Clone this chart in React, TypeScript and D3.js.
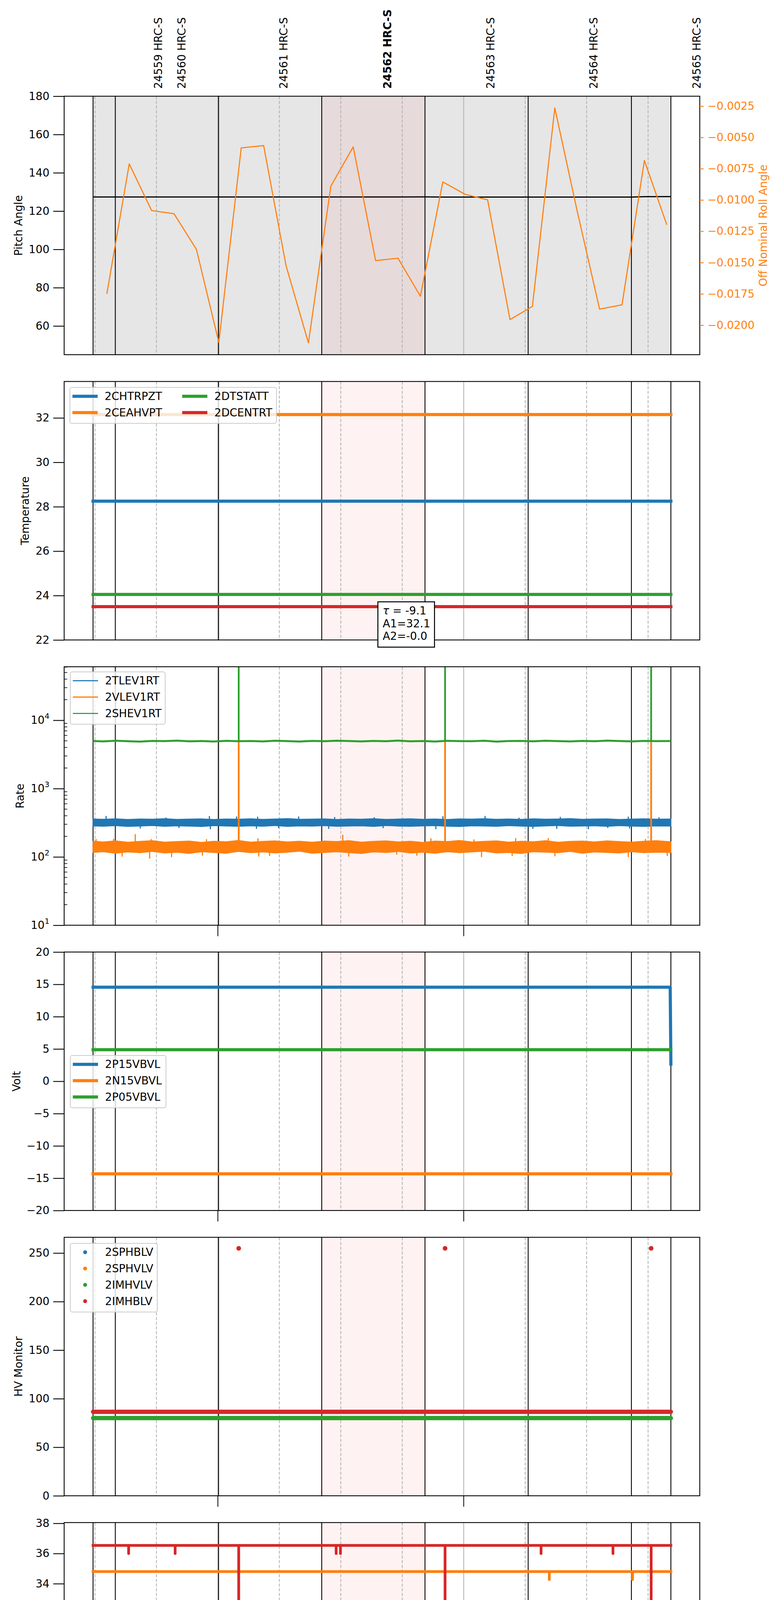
import { useEffect, useRef } from 'react';
import * as d3 from 'd3';

const FONT = 'DejaVu Sans, sans-serif';
const BLUE = '#1f77b4';
const ORANGE = '#ff7f0e';
const GREEN = '#2ca02c';
const RED = '#d62728';

const DAY = '2021-09-09';
const parseTime = d3.utcParse('%Y-%m-%d %H:%M:%S');
const at = (hms: string) => parseTime(`${DAY} ${hms}`) as Date;

// time span of the data and the observation boundaries
const dataStart = '03:29:32';
const dataEnd = '05:50:34';
const obsBoundaries = ['03:34:58', '04:00:10', '04:25:21', '04:50:33', '05:15:44', '05:40:56'];
const obsLabels = ['24559 HRC-S', '24560 HRC-S', '24561 HRC-S', '24562 HRC-S', '24563 HRC-S', '24564 HRC-S', '24565 HRC-S'];
const obsLabelTimes = ['03:45:28', '03:51:11', '04:16:06', '04:41:23', '05:06:34', '05:31:46', '05:56:52'];
const highlightObs = '24562 HRC-S';
const highlightSpan = ['04:25:21', '04:50:33'];

// panel 1: pitch and off nominal roll
const pitchTimes = ['03:29:32', '04:00:00', '04:50:33', '04:55:00', '05:40:56', '05:44:00', '05:50:34'];
const pitchValues = [127.35, 127.35, 127.4, 127.3, 127.3, 127.55, 127.6];
const rollTimes = [
  '03:32:54', '03:38:22', '03:43:50', '03:49:18', '03:54:46', '04:00:14', '04:05:42', '04:11:10', '04:16:38',
  '04:22:06', '04:27:34', '04:33:02', '04:38:30', '04:43:58', '04:49:26', '04:54:54', '05:00:22', '05:05:50',
  '05:11:18', '05:16:46', '05:22:14', '05:27:42', '05:33:10', '05:38:38', '05:44:06', '05:49:34',
];
const rollValues = [
  -0.0175, -0.00712, -0.01085, -0.0111, -0.01395, -0.02138, -0.00584, -0.00565, -0.01524,
  -0.02142, -0.0089, -0.00576, -0.01484, -0.01465, -0.01769, -0.00856, -0.00955, -0.00999,
  -0.01956, -0.0185, -0.00265, -0.01089, -0.01872, -0.01838, -0.00685, -0.01198,
];
const pitchTicks = [60, 80, 100, 120, 140, 160, 180];
const rollTicks = [-0.0025, -0.005, -0.0075, -0.01, -0.0125, -0.015, -0.0175, -0.02];

// panel 2: temperature
const tempNames = ['2CHTRPZT', '2CEAHVPT', '2DTSTATT', '2DCENTRT'];
const tempValues = [28.25, 32.15, 24.05, 23.5];
const tempTicks = [22, 24, 26, 28, 30, 32];
const fitLines = ['= -9.1', 'A1=32.1', 'A2=-0.0'];

// panel 3: rates (noise drawn as low/high envelopes plus single excursions)
const rateNames = ['2TLEV1RT', '2VLEV1RT', '2SHEV1RT'];
const rateTimes = [
  '03:29:32', '03:32:00', '03:35:00', '03:38:00', '03:41:00', '03:44:00', '03:47:00', '03:50:00', '03:53:00',
  '03:56:00', '03:59:00', '04:02:00', '04:05:00', '04:08:00', '04:11:00', '04:14:00', '04:17:00', '04:20:00',
  '04:23:00', '04:26:00', '04:29:00', '04:32:00', '04:35:00', '04:38:00', '04:41:00', '04:44:00', '04:47:00',
  '04:50:00', '04:53:00', '04:56:00', '04:59:00', '05:02:00', '05:05:00', '05:08:00', '05:11:00', '05:14:00',
  '05:17:00', '05:20:00', '05:23:00', '05:26:00', '05:29:00', '05:32:00', '05:35:00', '05:38:00', '05:41:00',
  '05:44:00', '05:47:00', '05:50:34',
];
const tlevHigh = [
  360, 356, 362, 354, 359, 357, 363, 355, 358, 361, 353, 360, 357, 362, 355, 359, 364, 356, 358, 361, 354, 360,
  357, 363, 355, 359, 362, 356, 360, 354, 361, 358, 363, 356, 359, 355, 362, 357, 360, 364, 356, 359, 361, 354,
  358, 362, 357, 360,
];
const tlevLow = [
  284, 281, 286, 279, 283, 287, 280, 285, 282, 278, 286, 283, 280, 285, 281, 287, 279, 284, 282, 286, 280, 283,
  285, 279, 287, 282, 280, 284, 286, 281, 278, 285, 283, 280, 286, 282, 279, 284, 287, 281, 283, 285, 280, 286,
  282, 279, 284, 283,
];
const tlevBase = 320;
const tlevBlipTimes = [
  '03:32:43', '03:47:20', '03:57:56', '04:04:33', '04:09:42', '04:19:43', '04:28:30', '04:38:10', '04:54:55',
  '05:05:13', '05:13:30', '05:23:35', '05:40:10', '05:47:40',
  '03:41:03', '03:50:30', '03:58:10', '04:09:25', '04:14:49', '04:27:03', '04:40:20', '04:53:12', '05:16:53',
  '05:22:43', '05:30:26', '05:35:10', '05:40:28',
];
const tlevBlipValues = [
  392, 372, 390, 385, 382, 385, 378, 374, 388, 392, 370, 380, 382, 374,
  265, 270, 259, 262, 268, 261, 268, 259, 262, 262, 259, 270, 265,
];
const vlevHigh = [
  170, 166, 172, 164, 169, 173, 165, 168, 171, 163, 170, 167, 174, 165, 169, 172, 166, 170, 164, 171, 168, 173,
  165, 169, 172, 166, 170, 163, 171, 168, 174, 166, 169, 172, 165, 170, 167, 173, 164, 169, 171, 166, 172, 168,
  165, 170, 173, 167,
];
const vlevLow = [
  116, 119, 113, 118, 115, 120, 114, 117, 112, 119, 116, 113, 120, 115, 118, 114, 117, 121, 113, 116, 119, 115,
  112, 118, 116, 120, 114, 117, 113, 119, 115, 118, 121, 114, 116, 112, 119, 117, 115, 120, 113, 118, 116, 114,
  119, 115, 117, 116,
];
const vlevBase = 140;
const vlevBlipTimes = [
  '03:30:17', '03:34:33', '03:39:50', '03:43:43', '03:57:13', '04:09:47', '04:30:29', '04:52:00', '05:02:30',
  '05:12:41', '05:20:38', '05:44:21',
  '03:36:38', '03:43:21', '03:48:42', '03:56:13', '04:09:59', '04:12:37', '04:31:56', '04:43:40', '04:48:33',
  '05:04:21', '05:11:50', '05:22:15', '05:40:10', '05:49:41',
];
const vlevBlipValues = [
  180, 182, 212, 180, 179, 185, 208, 184, 178, 186, 186, 180,
  103, 96, 101, 106, 103, 105, 103, 110, 106, 101, 105, 104, 101, 105,
];
const shevValues = [
  4980, 4900, 5010, 4940, 4870, 4990, 4950, 5030, 4920, 4960, 4890, 5000, 4940, 4970, 4910, 5020, 4950, 4880,
  4990, 4930, 5010, 4960, 4900, 4980, 4940, 5040, 4920, 4970, 4890, 5000, 4950, 4930, 5010, 4870, 4960, 4990,
  4920, 5020, 4950, 4900, 4980, 4940, 5030, 4960, 4910, 4990, 4950, 4970,
];
const shevBase = 4950;
const spikeTimes = ['04:05:05', '04:55:27', '05:45:45'];
const vlevSpikePeak = 5000;
const shevSpikePeak = 1e6;
const rateTicks = [10, 100, 1000, 10000];

// panel 4: voltages
const voltNames = ['2P15VBVL', '2N15VBVL', '2P05VBVL'];
const p15Times = ['03:29:32', '05:50:24', '05:50:34'];
const p15Values = [14.55, 14.55, 2.65];
const n15Value = -14.32;
const p05Value = 4.88;
const voltTicks = [-20, -15, -10, -5, 0, 5, 10, 15, 20];

// panel 5: HV monitors
const hvNames = ['2SPHBLV', '2SPHVLV', '2IMHVLV', '2IMHBLV'];
const imhvlvValue = 80.0;
const imhblvValue = 86.5;
const imhblvSpikeValue = 254.8;
const hvTicks = [0, 50, 100, 150, 200, 250];

// panel 6: detector temperatures
const detNames = ['2SPINATM', '2SPHVATM', '2IMINATM', '2IMHVATM'];
const detBase = [22.41, 34.8, 23.14, 36.54];
const spinatmDipTimes = ['03:45:11', '03:50:37', '03:58:44', '03:59:47'];
const spinatmDipValues = [21.62, 21.62, 21.62, 21.62];
const sphvatmDipTimes = ['05:20:53', '05:41:12'];
const sphvatmDipValues = [34.28, 34.28];
const imhvatmDipTimes = ['03:38:13', '03:49:34', '04:28:52', '04:29:55', '05:18:53', '05:36:26', '04:05:05', '04:55:27', '05:45:45'];
const imhvatmDipValues = [36.0, 36.0, 36.0, 36.0, 36.0, 36.0, 15, 15, 15];
const detTicks = [22, 24, 26, 28, 30, 32, 34, 36, 38];

// panel 7: FEA temperatures
const feaNames = ['2FHTRMZT', '2FRADPYT', '2FEPRATM', '2FE00ATM'];
const feaBase = [26.39, 21.8, 27.76, 25.28];
const fradpytDipTimes = ['05:05:44', '05:28:09', '05:30:26', '05:37:01', '05:48:57'];
const fradpytDipValues = [21.22, 21.22, 21.22, 21.22, 21.22];
const fepratmDipTimes = ['04:05:05', '04:55:27', '05:45:45', '05:26:24'];
const fepratmDipValues = [25.35, 25.35, 25.35, 26.92];
const fe00atmSpikeTimes = [
  '03:35:27', '04:05:36', '04:09:08', '04:13:20', '04:17:53', '04:19:37', '04:34:36', '04:53:00', '04:57:06',
  '04:57:42', '05:01:02', '05:09:03', '05:42:42',
  '03:33:49', '03:38:24', '03:41:04', '04:10:11', '04:22:35', '04:35:10', '04:39:28', '04:39:57', '04:41:40',
  '05:07:37', '05:15:16', '05:47:08',
  '04:05:05', '04:55:27', '05:45:45',
];
const fe00atmSpikeValues = [
  25.66, 26.35, 25.65, 26.0, 26.0, 26.35, 25.65, 26.35, 25.65, 25.65, 25.65, 26.0, 25.65,
  24.24, 24.9, 24.25, 24.95, 24.56, 24.25, 24.6, 24.6, 22.93, 24.25, 24.95, 24.95,
  15, 15, 15,
];
const feaTicks = [21, 22, 23, 24, 25, 26, 27, 28, 29];

// layout
const PLOT_LEFT = 164.3;
const PLOT_RIGHT = 1792;
const PANEL_TOP = 246.3;
const PANEL_STEP = 730.3;
const PANEL_H = 661.7;

type Item = { label: string; color: string; lw?: number; dot?: boolean };

const App = () => {
  const svgRef = useRef<SVGSVGElement>(null);

  useEffect(() => {
    if (!svgRef.current) return;
    const svg = d3.select(svgRef.current);
    svg.selectAll('*').remove();

    const w = PLOT_RIGHT - PLOT_LEFT;
    const h = PANEL_H;
    const start = at(dataStart);
    const end = at(dataEnd);
    const pad = (+end - +start) * 0.05;
    const x = d3.scaleUtc().domain([new Date(+start - pad), new Date(+end + pad)]).range([0, w]);
    const quarters = x.ticks(d3.utcMinute.every(15)!);
    const hours = quarters.filter((d) => d.getUTCMinutes() === 0);
    const minors = quarters.filter((d) => d.getUTCMinutes() !== 0);
    const fmtInt = d3.format('d');

    svg.append('rect').attr('width', 2000).attr('height', 5400).attr('fill', '#fff');

    const panel = (i: number) => {
      const g = svg.append('g').attr('transform', `translate(${PLOT_LEFT},${PANEL_TOP + i * PANEL_STEP})`);
      g.append('clipPath').attr('id', `clip${i}`).append('rect').attr('width', w).attr('height', h);
      return g;
    };

    const background = (g: any, shadeAll: boolean) => {
      if (shadeAll) {
        g.append('rect')
          .attr('x', x(start)).attr('width', x(end) - x(start)).attr('height', h)
          .attr('fill', '#808080').attr('fill-opacity', 0.2);
      }
      const s0 = at(highlightSpan[0]);
      const s1 = at(highlightSpan[1]);
      g.append('rect')
        .attr('x', x(s0)).attr('width', x(s1) - x(s0)).attr('height', h)
        .attr('fill', 'red').attr('fill-opacity', 0.05);
      g.selectAll('line.minor').data(minors).join('line')
        .attr('x1', (d: Date) => x(d)).attr('x2', (d: Date) => x(d)).attr('y1', 0).attr('y2', h)
        .attr('stroke', '#b0b0b0').attr('stroke-width', 2).attr('stroke-dasharray', '8,4');
      g.selectAll('line.hour').data(hours).join('line')
        .attr('x1', (d: Date) => x(d)).attr('x2', (d: Date) => x(d)).attr('y1', 0).attr('y2', h)
        .attr('stroke', '#b0b0b0').attr('stroke-width', 2);
      const bounds = [dataStart, ...obsBoundaries, dataEnd].map(at);
      g.selectAll('line.bound').data(bounds).join('line')
        .attr('x1', (d: Date) => x(d)).attr('x2', (d: Date) => x(d)).attr('y1', 0).attr('y2', h)
        .attr('stroke', '#000').attr('stroke-width', 2.2);
    };

    const frame = (g: any, hourTicks: boolean) => {
      g.append('rect').attr('width', w).attr('height', h)
        .attr('fill', 'none').attr('stroke', '#000').attr('stroke-width', 2.2);
      if (hourTicks) {
        g.selectAll('line.htick').data(hours).join('line')
          .attr('x1', (d: Date) => x(d)).attr('x2', (d: Date) => x(d)).attr('y1', h).attr('y2', h + 28)
          .attr('stroke', '#000').attr('stroke-width', 2);
      }
    };

    const leftAxis = (g: any, y: any, ticks: number[], fmt: (v: number) => string) => {
      const ax = g.append('g').call(
        d3.axisLeft(y).tickValues(ticks).tickSize(28).tickPadding(9.7).tickFormat((v: any) => fmt(v))
      );
      ax.select('.domain').remove();
      ax.selectAll('line').attr('stroke', '#000').attr('stroke-width', 2.2);
      ax.selectAll('text').attr('font-size', 27.8).attr('font-family', FONT).attr('fill', '#000');
      return ax;
    };

    const yLabel = (g: any, label: string, cx: number) => {
      g.append('text')
        .attr('transform', `translate(${cx - PLOT_LEFT},${h / 2}) rotate(-90)`)
        .attr('text-anchor', 'middle').attr('dominant-baseline', 'central')
        .attr('font-size', 27.8).attr('font-family', FONT).text(label);
    };

    const flat = (g: any, y: any, value: number, color: string, lw: number, cap = 'square') => {
      const line = d3.line<Date>().x((d) => x(d)).y(() => y(value));
      g.append('path').datum([start, end]).attr('d', line)
        .attr('fill', 'none').attr('stroke', color).attr('stroke-width', lw).attr('stroke-linecap', cap);
    };

    const spikes = (g: any, y: any, base: number, times: string[], values: number[], color: string, lw: number) => {
      g.selectAll(null).data(times).join('line')
        .attr('x1', (d: string) => x(at(d))).attr('x2', (d: string) => x(at(d)))
        .attr('y1', y(base)).attr('y2', (_: string, k: number) => y(values[k]))
        .attr('stroke', color).attr('stroke-width', lw).attr('stroke-linecap', 'round');
    };

    // ---------- panel 1: pitch / roll ----------
    {
      const g = panel(0);
      const y = d3.scaleLinear().domain([45, 180]).range([h, 0]);
      const rExt = d3.extent(rollValues) as [number, number];
      const rPad = (rExt[1] - rExt[0]) * 0.05;
      const yR = d3.scaleLinear().domain([rExt[0] - rPad, rExt[1] + rPad]).range([h, 0]);
      background(g, true);
      const dg = g.append('g').attr('clip-path', 'url(#clip0)');
      dg.append('path')
        .datum(pitchTimes.map((t, k) => [at(t), pitchValues[k]] as [Date, number]))
        .attr('d', d3.line<[Date, number]>().x((d) => x(d[0])).y((d) => y(d[1])))
        .attr('fill', 'none').attr('stroke', '#000').attr('stroke-width', 3);
      dg.append('path')
        .datum(rollTimes.map((t, k) => [at(t), rollValues[k]] as [Date, number]))
        .attr('d', d3.line<[Date, number]>().x((d) => x(d[0])).y((d) => yR(d[1])))
        .attr('fill', 'none').attr('stroke', ORANGE).attr('stroke-width', 2.8).attr('stroke-linejoin', 'round');
      frame(g, false);
      leftAxis(g, y, pitchTicks, fmtInt);
      const rAx = g.append('g').attr('transform', `translate(${w},0)`).call(
        d3.axisRight(yR).tickValues(rollTicks).tickSize(10).tickPadding(9.7).tickFormat(d3.format('.4f') as any)
      );
      rAx.select('.domain').remove();
      rAx.selectAll('line').attr('stroke', ORANGE).attr('stroke-width', 2.2);
      rAx.selectAll('text').attr('font-size', 27.8).attr('font-family', FONT).attr('fill', ORANGE);
      yLabel(g, 'Pitch Angle', 47);
      g.append('text')
        .attr('transform', `translate(${1954 - PLOT_LEFT},${h / 2}) rotate(-90)`)
        .attr('text-anchor', 'middle').attr('dominant-baseline', 'central')
        .attr('font-size', 27.8).attr('font-family', FONT).attr('fill', ORANGE)
        .text('Off Nominal Roll Angle');
      g.selectAll('text.obs').data(obsLabels).join('text')
        .attr('transform', (_: string, k: number) => `translate(${x(at(obsLabelTimes[k]))},${-19}) rotate(-90)`)
        .attr('text-anchor', 'start').attr('dominant-baseline', 'central')
        .attr('font-size', 27.8).attr('font-family', FONT)
        .attr('font-weight', (d: string) => (d === highlightObs ? 'bold' : 'normal'))
        .text((d: string) => d);
    }

    // ---------- panel 2: temperature ----------
    {
      const g = panel(1);
      const y = d3.scaleLinear().domain([22, 33.64]).range([h, 0]);
      background(g, false);
      const dg = g.append('g').attr('clip-path', 'url(#clip1)');
      const colors = [BLUE, ORANGE, GREEN, RED];
      tempValues.forEach((v, k) => flat(dg, y, v, colors[k], 8));
      frame(g, false);
      leftAxis(g, y, tempTicks, fmtInt);
      yLabel(g, 'Temperature', 64);
    }

    // ---------- panel 3: rates ----------
    {
      const g = panel(2);
      const y = d3.scaleLog().domain([10, Math.pow(10, 4.783)]).range([h, 0]);
      background(g, false);
      const dg = g.append('g').attr('clip-path', 'url(#clip2)');
      const band = (hi: number[], lo: number[], color: string) => {
        const area = d3.area<number>()
          .x((_, k) => x(at(rateTimes[k])))
          .y0((d) => y(d))
          .y1((_, k) => y(hi[k]));
        dg.append('path').datum(lo).attr('d', area)
          .attr('fill', color).attr('stroke', color).attr('stroke-width', 2).attr('stroke-linejoin', 'round');
      };
      band(tlevHigh, tlevLow, BLUE);
      spikes(dg, y, tlevBase, tlevBlipTimes, tlevBlipValues, BLUE, 3);
      band(vlevHigh, vlevLow, ORANGE);
      spikes(dg, y, vlevBase, vlevBlipTimes, vlevBlipValues, ORANGE, 3);
      spikes(dg, y, vlevBase, spikeTimes, spikeTimes.map(() => vlevSpikePeak), ORANGE, 4.5);
      dg.append('path').datum(shevValues)
        .attr('d', d3.line<number>().x((_, k) => x(at(rateTimes[k]))).y((d) => y(d)))
        .attr('fill', 'none').attr('stroke', GREEN).attr('stroke-width', 5);
      spikes(dg, y, shevBase, spikeTimes, spikeTimes.map(() => shevSpikePeak), GREEN, 4.5);
      frame(g, true);
      const ax = leftAxis(g, y, rateTicks, () => '');
      ax.selectAll('text').each(function (this: any, d: any) {
        const el = d3.select(this);
        el.text(null);
        el.append('tspan').text('10');
        el.append('tspan').attr('font-size', 19.5).attr('dy', -13).text(String(Math.round(Math.log10(d))));
      });
      const minorTicks: number[] = [];
      [10, 100, 1000, 10000].forEach((dec) => {
        for (let m = 2; m <= 9; m++) if (dec * m < y.domain()[1]) minorTicks.push(dec * m);
      });
      g.selectAll('line.mtick').data(minorTicks).join('line')
        .attr('x1', 0).attr('x2', 8).attr('y1', (d: number) => y(d)).attr('y2', (d: number) => y(d))
        .attr('stroke', '#000').attr('stroke-width', 1.6);
      yLabel(g, 'Rate', 51);
    }

    // ---------- panel 4: voltage ----------
    {
      const g = panel(3);
      const y = d3.scaleLinear().domain([-20, 20]).range([h, 0]);
      background(g, false);
      const dg = g.append('g').attr('clip-path', 'url(#clip3)');
      dg.append('path')
        .datum(p15Times.map((t, k) => [at(t), p15Values[k]] as [Date, number]))
        .attr('d', d3.line<[Date, number]>().x((d) => x(d[0])).y((d) => y(d[1])))
        .attr('fill', 'none').attr('stroke', BLUE).attr('stroke-width', 8)
        .attr('stroke-linecap', 'square').attr('stroke-linejoin', 'round');
      flat(dg, y, n15Value, ORANGE, 8);
      flat(dg, y, p05Value, GREEN, 8);
      frame(g, true);
      leftAxis(g, y, voltTicks, fmtInt);
      yLabel(g, 'Volt', 42);
    }

    // ---------- panel 5: HV monitor ----------
    {
      const g = panel(4);
      const y = d3.scaleLinear().domain([0, 266.2]).range([h, 0]);
      background(g, false);
      const dg = g.append('g').attr('clip-path', 'url(#clip4)');
      flat(dg, y, imhvlvValue, GREEN, 11, 'round');
      flat(dg, y, imhblvValue, RED, 11, 'round');
      dg.selectAll('circle.hv').data(spikeTimes).join('circle')
        .attr('cx', (d: string) => x(at(d))).attr('cy', y(imhblvSpikeValue)).attr('r', 6).attr('fill', RED);
      frame(g, true);
      leftAxis(g, y, hvTicks, fmtInt);
      yLabel(g, 'HV Monitor', 47);
    }

    // ---------- panel 6: detector temp ----------
    {
      const g = panel(5);
      const y = d3.scaleLinear().domain([20.92, 38.05]).range([h, 0]);
      background(g, false);
      const dg = g.append('g').attr('clip-path', 'url(#clip5)');
      const colors = [BLUE, ORANGE, GREEN, RED];
      const dips: [string[], number[]][] = [
        [spinatmDipTimes, spinatmDipValues],
        [sphvatmDipTimes, sphvatmDipValues],
        [[], []],
        [imhvatmDipTimes, imhvatmDipValues],
      ];
      detBase.forEach((v, k) => {
        spikes(dg, y, v, dips[k][0], dips[k][1], colors[k], 7);
        flat(dg, y, v, colors[k], 7);
      });
      frame(g, true);
      leftAxis(g, y, detTicks, fmtInt);
      yLabel(g, 'Detector Temp', 64);
    }

    // ---------- panel 7: FEA temp ----------
    {
      const g = panel(6);
      const y = d3.scaleLinear().domain([20.31, 29.27]).range([h, 0]);
      background(g, false);
      const dg = g.append('g').attr('clip-path', 'url(#clip6)');
      const colors = [BLUE, ORANGE, GREEN, RED];
      const sp: [string[], number[]][] = [
        [[], []],
        [fradpytDipTimes, fradpytDipValues],
        [fepratmDipTimes, fepratmDipValues],
        [fe00atmSpikeTimes, fe00atmSpikeValues],
      ];
      feaBase.forEach((v, k) => {
        spikes(dg, y, v, sp[k][0], sp[k][1], colors[k], 7);
        flat(dg, y, v, colors[k], 7);
      });
      frame(g, true);
      leftAxis(g, y, feaTicks, fmtInt);
      yLabel(g, 'FEA Temp', 64);
      g.selectAll('text.minor').data(minors).join('text')
        .attr('x', (d: Date) => x(d)).attr('y', h + 16)
        .attr('text-anchor', 'middle').attr('dominant-baseline', 'central')
        .attr('font-size', 19.4).attr('font-family', FONT)
        .text((d: Date) => d3.utcFormat('%M')(d));
      g.selectAll('text.hour').data(hours).join('text')
        .attr('x', (d: Date) => x(d)).attr('y', h + 51)
        .attr('text-anchor', 'middle').attr('dominant-baseline', 'central')
        .attr('font-size', 27.8).attr('font-family', FONT)
        .text((d: Date) => d3.utcFormat('%Hh')(d));
      g.append('text')
        .attr('x', w / 2).attr('y', h + 92)
        .attr('text-anchor', 'middle').attr('dominant-baseline', 'central')
        .attr('font-size', 30.6).attr('font-family', FONT)
        .text(`${DAY} (252)`);
    }

    // ---------- legends ----------
    const legend = (bx: number, by: number, bw: number, items: Item[], cols = 1, colStep = 0) => {
      const rows = Math.ceil(items.length / cols);
      const lg = svg.append('g');
      lg.append('rect')
        .attr('x', bx).attr('y', by).attr('width', bw).attr('height', rows * 41.8 + 8.5).attr('rx', 5)
        .attr('fill', '#fff').attr('fill-opacity', 0.8).attr('stroke', '#cccccc').attr('stroke-width', 2);
      items.forEach((it, k) => {
        const c = Math.floor(k / rows);
        const r = k % rows;
        const ox = bx + c * colStep;
        const cy = by + 22.7 + r * 41.8;
        if (it.dot) {
          lg.append('circle').attr('cx', ox + 38).attr('cy', cy).attr('r', 5).attr('fill', it.color);
        } else {
          lg.append('line').attr('x1', ox + 6.5).attr('x2', ox + 71).attr('y1', cy).attr('y2', cy)
            .attr('stroke', it.color).attr('stroke-width', it.lw ?? 8);
        }
        lg.append('text').attr('x', ox + 89).attr('y', cy).attr('dominant-baseline', 'central')
          .attr('font-size', 27.8).attr('font-family', FONT).text(it.label);
      });
    };
    const palette = [BLUE, ORANGE, GREEN, RED];
    legend(179, 991.7, 529, tempNames.map((n, k) => ({ label: n, color: palette[k], lw: 8 })), 2, 281);
    legend(180, 1720, 243, rateNames.map((n, k) => ({ label: n, color: palette[k], lw: 2.8 })));
    legend(180, 2702, 245, voltNames.map((n, k) => ({ label: n, color: palette[k], lw: 8 })));
    legend(180, 3183, 223, hvNames.map((n, k) => ({ label: n, color: palette[k], dot: true })));
    legend(180, 4141.8, 246, detNames.map((n, k) => ({ label: n, color: palette[k], lw: 7 })));
    legend(180, 5101, 251, feaNames.map((n, k) => ({ label: n, color: palette[k], lw: 7 })));

    // ---------- fit text box ----------
    const box = svg.append('g');
    box.append('rect').attr('x', 967.7).attr('y', 1540.7).attr('width', 145).attr('height', 116)
      .attr('fill', '#fff').attr('stroke', '#000').attr('stroke-width', 2.5);
    const baselines = [1573, 1605.7, 1637.7];
    fitLines.forEach((line, k) => {
      const t = box.append('text').attr('x', 980).attr('y', baselines[k])
        .attr('font-size', 27.8).attr('font-family', FONT);
      if (k === 0) {
        t.append('tspan').attr('font-style', 'italic').text('τ');
        t.append('tspan').text(` ${line}`);
      } else {
        t.text(line);
      }
    });
  }, []);

  return (
    <svg
      ref={svgRef}
      width={2000}
      height={5400}
      style={{ display: 'block', margin: '-8px' }}
    />
  );
};

export default App;
